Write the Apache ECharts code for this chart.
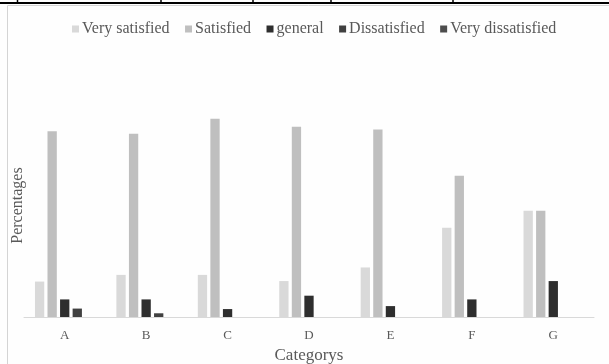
<!DOCTYPE html>
<html>
<head>
<meta charset="utf-8">
<script src="https://cdn.jsdelivr.net/npm/echarts@6/dist/echarts.min.js"></script>
<style>
html,body{margin:0;padding:0;background:#ffffff;}
#chart{width:609px;height:364px;}
</style>
</head>
<body>
<div id="chart"></div>
<script>
var categories = ['A', 'B', 'C', 'D', 'E', 'F', 'G'];
var seriesNames = ['Very satisfied', 'Satisfied', 'general', 'Dissatisfied', 'Very dissatisfied'];
var verySatisfied = [14.3, 17, 17, 14.5, 20, 36, 42.9];
var satisfied = [75, 74, 80, 76.8, 75.7, 57, 42.9];
var general = [7.1, 7.1, 3.2, 8.6, 4.4, 7.1, 14.5];
var dissatisfied = [3.4, 1.5, 0, 0, 0, 0, 0];
var veryDissatisfied = [0, 0, 0, 0, 0, 0, 0];
var seriesColors = ['#d9d9d9', '#bfbfbf', '#2e2e2e', '#404040', '#4d4d4d'];

var dataSets = [verySatisfied, satisfied, general, dissatisfied, veryDissatisfied];
var font = '"Liberation Serif", "Times New Roman", serif';

var chart = echarts.init(document.getElementById('chart'), null, {renderer: 'canvas'});
var series = seriesNames.map(function (name, i) {
  return {
    name: name,
    type: 'bar',
    data: dataSets[i],
    barWidth: 9.3,
    barGap: '35%',
    itemStyle: {color: seriesColors[i]},
    emphasis: {disabled: true}
  };
});

chart.setOption({
  backgroundColor: '#fefefe',
  animation: false,
  textStyle: {fontFamily: font},
  legend: {
    data: seriesNames,
    top: 21,
    left: 72,
    padding: 0,
    icon: 'rect',
    itemWidth: 7,
    itemHeight: 7,
    itemGap: 15.5,
    textStyle: {fontFamily: font, fontSize: 16, color: '#595959', padding: [0, 0, 0, -2]}
  },
  grid: {left: 24, right: 15, top: 94, bottom: 47, containLabel: false, outerBoundsMode: 'none'},
  xAxis: {
    type: 'category',
    data: categories,
    name: 'Categorys',
    nameLocation: 'middle',
    nameGap: 30,
    nameTextStyle: {fontFamily: font, fontSize: 17, color: '#595959'},
    axisLine: {lineStyle: {color: '#d9d9d9', width: 1}},
    axisTick: {show: false},
    axisLabel: {fontFamily: font, fontSize: 13, color: '#595959', margin: 12}
  },
  yAxis: {
    type: 'value',
    min: 0,
    max: 90,
    name: 'Percentages',
    nameLocation: 'middle',
    nameGap: -2,
    nameTextStyle: {fontFamily: font, fontSize: 16, color: '#595959'},
    axisLine: {show: false},
    axisTick: {show: false},
    axisLabel: {show: false},
    splitLine: {show: false}
  },
  graphic: [
    {type: 'rect', z: -1, shape: {x: 7.5, y: 5.5, width: 620, height: 380}, style: {fill: null, stroke: '#d4d4d4', lineWidth: 1}},
    {type: 'line', shape: {x1: 0, y1: 3, x2: 609, y2: 3}, style: {stroke: '#000', lineWidth: 2}},
    {type: 'line', shape: {x1: 17.5, y1: 0, x2: 17.5, y2: 3}, style: {stroke: '#000', lineWidth: 1.5}},
    {type: 'line', shape: {x1: 161, y1: 0, x2: 161, y2: 3}, style: {stroke: '#000', lineWidth: 1.5}},
    {type: 'line', shape: {x1: 253, y1: 0, x2: 253, y2: 3}, style: {stroke: '#000', lineWidth: 1.5}},
    {type: 'line', shape: {x1: 331, y1: 0, x2: 331, y2: 3}, style: {stroke: '#000', lineWidth: 1.5}},
    {type: 'line', shape: {x1: 453, y1: 0, x2: 453, y2: 3}, style: {stroke: '#000', lineWidth: 1.5}}
  ],
  series: series
});
</script>
</body>
</html>
